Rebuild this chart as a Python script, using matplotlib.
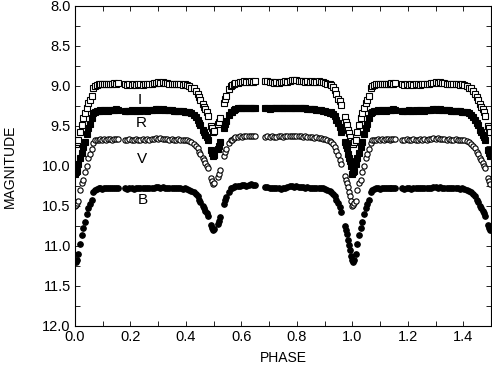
import matplotlib
matplotlib.use('Agg')
import matplotlib.pyplot as plt
import numpy as np
from matplotlib.ticker import MultipleLocator

plt.rcParams['font.family'] = ['Liberation Sans', 'DejaVu Sans']

# Orbital phase (0-1), shared by all four filters
phase = [
    0.000, 0.003, 0.006, 0.012, 0.018, 0.024, 0.030, 0.036, 0.042, 0.048, 0.054, 0.060, 0.066, 0.072,
    0.078, 0.085, 0.092, 0.099, 0.106, 0.113, 0.120, 0.127, 0.134, 0.141, 0.148, 0.155,
    0.180, 0.188, 0.196, 0.204, 0.212, 0.220, 0.228, 0.236, 0.244, 0.252, 0.260, 0.268, 0.276, 0.284,
    0.292, 0.300, 0.308, 0.316, 0.324, 0.332, 0.340, 0.348, 0.356, 0.364, 0.372, 0.380, 0.388, 0.396,
    0.404, 0.412, 0.420, 0.428, 0.436, 0.442, 0.448, 0.452, 0.460, 0.464, 0.470, 0.476, 0.480, 0.490,
    0.494, 0.498, 0.502, 0.514, 0.518, 0.522, 0.538, 0.542, 0.546, 0.556, 0.562, 0.566, 0.572, 0.578,
    0.586, 0.594, 0.602, 0.610, 0.618, 0.626, 0.634, 0.642, 0.650,
    0.686, 0.694, 0.702, 0.710, 0.718, 0.726, 0.734, 0.742, 0.750, 0.758, 0.766, 0.774, 0.782, 0.790,
    0.798, 0.806, 0.814, 0.822, 0.830, 0.838, 0.846, 0.854, 0.862, 0.870, 0.878, 0.886, 0.894, 0.902,
    0.910, 0.918,
    0.924, 0.930, 0.936, 0.942, 0.948, 0.954, 0.960, 0.972, 0.976, 0.980, 0.984, 0.988, 0.992, 0.996,
]

mag_I = [
    9.71, 9.72, 9.70, 9.68, 9.58, 9.49, 9.40, 9.34, 9.27, 9.21, 9.17, 9.12, 9.03, 9.00,
    8.99, 8.98, 8.98, 8.97, 8.98, 8.97, 8.97, 8.98, 8.97, 8.96, 8.97, 8.96,
    8.98, 8.99, 8.98, 8.99, 8.98, 8.99, 8.98, 8.98, 8.99, 8.98, 8.97, 8.98, 8.97, 8.96,
    8.96, 8.95, 8.96, 8.95, 8.96, 8.96, 8.97, 8.97, 8.98, 8.97, 8.98, 8.98, 8.99, 8.98,
    8.99, 9.00, 9.02, 9.03, 9.06, 9.10, 9.14, 9.17, 9.23, 9.26, 9.29, 9.33, 9.37, 9.50,
    9.53, 9.57, 9.56, 9.48, 9.45, 9.40, 9.21, 9.16, 9.12, 9.04, 9.00, 8.99, 8.97, 8.96,
    8.96, 8.95, 8.95, 8.94, 8.95, 8.95, 8.94, 8.95, 8.94,
    8.94, 8.94, 8.95, 8.95, 8.96, 8.95, 8.96, 8.95, 8.95, 8.94, 8.95, 8.94, 8.93, 8.92,
    8.93, 8.94, 8.94, 8.94, 8.95, 8.94, 8.95, 8.94, 8.95, 8.95, 8.94, 8.95, 8.95, 8.96,
    8.97, 8.98,
    8.99, 9.01, 9.05, 9.10, 9.16, 9.19, 9.24, 9.39, 9.45, 9.49, 9.55, 9.59, 9.64, 9.69,
]

mag_R = [
    10.10, 10.08, 10.06, 9.98, 9.90, 9.84, 9.76, 9.70, 9.60, 9.53, 9.47, 9.40, 9.34, 9.32,
    9.31, 9.31, 9.30, 9.31, 9.30, 9.30, 9.31, 9.30, 9.30, 9.30, 9.29, 9.30,
    9.31, 9.31, 9.31, 9.30, 9.31, 9.31, 9.30, 9.31, 9.30, 9.30, 9.31, 9.30, 9.30, 9.30,
    9.29, 9.29, 9.30, 9.29, 9.30, 9.30, 9.30, 9.30, 9.31, 9.31, 9.31, 9.31, 9.31, 9.32,
    9.32, 9.33, 9.34, 9.36, 9.39, 9.42, 9.46, 9.49, 9.55, 9.57, 9.61, 9.64, 9.68, 9.80,
    9.84, 9.87, 9.86, 9.79, 9.75, 9.70, 9.53, 9.48, 9.44, 9.36, 9.33, 9.32, 9.30, 9.29,
    9.28, 9.28, 9.27, 9.28, 9.28, 9.27, 9.28, 9.27, 9.28,
    9.28, 9.28, 9.29, 9.28, 9.28, 9.28, 9.27, 9.28, 9.28, 9.27, 9.27, 9.28, 9.27, 9.27,
    9.28, 9.28, 9.28, 9.28, 9.28, 9.29, 9.29, 9.29, 9.29, 9.30, 9.30, 9.30, 9.31, 9.31,
    9.32, 9.34,
    9.33, 9.35, 9.38, 9.42, 9.46, 9.51, 9.57, 9.70, 9.74, 9.78, 9.85, 9.90, 9.94, 10.00,
]

mag_V = [
    10.50, 10.49, 10.46, 10.44, 10.30, 10.21, 10.17, 10.07, 10.00, 9.90, 9.85, 9.79, 9.71, 9.68,
    9.67, 9.67, 9.66, 9.67, 9.66, 9.67, 9.66, 9.66, 9.67, 9.66, 9.66, 9.66,
    9.67, 9.67, 9.66, 9.67, 9.67, 9.66, 9.67, 9.67, 9.66, 9.67, 9.66, 9.67, 9.66, 9.66,
    9.65, 9.66, 9.65, 9.66, 9.66, 9.66, 9.67, 9.66, 9.67, 9.67, 9.66, 9.67, 9.67, 9.67,
    9.68, 9.69, 9.70, 9.72, 9.75, 9.78, 9.82, 9.85, 9.90, 9.93, 9.96, 10.00, 10.03, 10.15,
    10.19, 10.22, 10.21, 10.14, 10.10, 10.05, 9.88, 9.83, 9.79, 9.71, 9.68, 9.67, 9.65, 9.64,
    9.64, 9.63, 9.64, 9.63, 9.63, 9.62, 9.63, 9.63, 9.62,
    9.64, 9.63, 9.64, 9.63, 9.64, 9.64, 9.63, 9.63, 9.64, 9.63, 9.63, 9.63, 9.62, 9.63,
    9.63, 9.63, 9.63, 9.64, 9.63, 9.64, 9.64, 9.64, 9.65, 9.64, 9.65, 9.65, 9.66, 9.66,
    9.67, 9.69,
    9.70, 9.72, 9.76, 9.81, 9.86, 9.92, 9.97, 10.13, 10.17, 10.21, 10.26, 10.33, 10.38, 10.44,
]

mag_B = [
    11.18, 11.20, 11.17, 11.10, 10.98, 10.86, 10.77, 10.70, 10.60, 10.53, 10.47, 10.42, 10.33, 10.30,
    10.29, 10.28, 10.28, 10.29, 10.28, 10.28, 10.27, 10.28, 10.28, 10.27, 10.28, 10.28,
    10.28, 10.29, 10.28, 10.28, 10.29, 10.28, 10.28, 10.27, 10.28, 10.28, 10.27, 10.28, 10.27, 10.27,
    10.26, 10.26, 10.27, 10.26, 10.27, 10.27, 10.28, 10.27, 10.28, 10.28, 10.28, 10.28, 10.29, 10.28,
    10.29, 10.30, 10.31, 10.33, 10.35, 10.38, 10.42, 10.45, 10.50, 10.52, 10.56, 10.59, 10.62, 10.74,
    10.77, 10.80, 10.79, 10.72, 10.69, 10.64, 10.48, 10.43, 10.39, 10.32, 10.28, 10.27, 10.26, 10.25,
    10.25, 10.25, 10.24, 10.24, 10.25, 10.24, 10.23, 10.24, 10.24,
    10.26, 10.26, 10.27, 10.27, 10.28, 10.27, 10.28, 10.29, 10.28, 10.27, 10.26, 10.25, 10.25, 10.26,
    10.25, 10.26, 10.26, 10.26, 10.27, 10.26, 10.27, 10.27, 10.27, 10.28, 10.27, 10.28, 10.28, 10.29,
    10.30, 10.31,
    10.33, 10.35, 10.38, 10.42, 10.46, 10.51, 10.57, 10.75, 10.80, 10.85, 10.92, 10.99, 11.05, 11.12,
]

band_labels = ['I', 'R', 'V', 'B']
label_phase = [0.232, 0.240, 0.240, 0.244]
label_mag = [9.17, 9.46, 9.91, 10.43]

# repeat the first half cycle after phase 1
ph = np.array(phase)
rep = ph <= 0.5
x_all = np.concatenate([ph, ph[rep] + 1.0])


def extend(m):
    m = np.array(m)
    return np.concatenate([m, m[rep]])


fig = plt.figure(figsize=(4.92, 3.75), dpi=100)
ax = fig.add_axes([0.1524, 0.1307, 0.8456, 0.8533])

ax.plot(x_all, extend(mag_I), 's', ms=3.7, mfc='white', mec='black', mew=0.8)
ax.plot(x_all, extend(mag_R), 's', ms=3.7, mfc='black', mec='black', mew=0.8)
ax.plot(x_all, extend(mag_V), 'o', ms=3.8, mfc='white', mec='black', mew=0.8)
ax.plot(x_all, extend(mag_B), 'o', ms=4.0, mfc='black', mec='black', mew=0.8)

for lab, px, py in zip(band_labels, label_phase, label_mag):
    ax.text(px, py, lab, fontsize=11, ha='center', va='center')

ax.set_xlim(0.0, 1.5)
ax.set_ylim(12.0, 8.0)
ax.xaxis.set_major_locator(MultipleLocator(0.2))
ax.xaxis.set_minor_locator(MultipleLocator(0.1))
ax.yaxis.set_major_locator(MultipleLocator(0.5))
ax.yaxis.set_minor_locator(MultipleLocator(0.25))
ax.xaxis.set_major_formatter(plt.FormatStrFormatter('%.1f'))
ax.yaxis.set_major_formatter(plt.FormatStrFormatter('%.1f'))
ax.tick_params(which='both', direction='in', top=True, right=True, length=3.5, width=0.6,
               labelsize=10.5, pad=3)
for s in ax.spines.values():
    s.set_linewidth(0.8)

ax.set_xlabel('PHASE', fontsize=10, labelpad=5)
ax.set_ylabel('MAGNITUDE', fontsize=10, labelpad=18)

fig.savefig('out.png', dpi=100)
